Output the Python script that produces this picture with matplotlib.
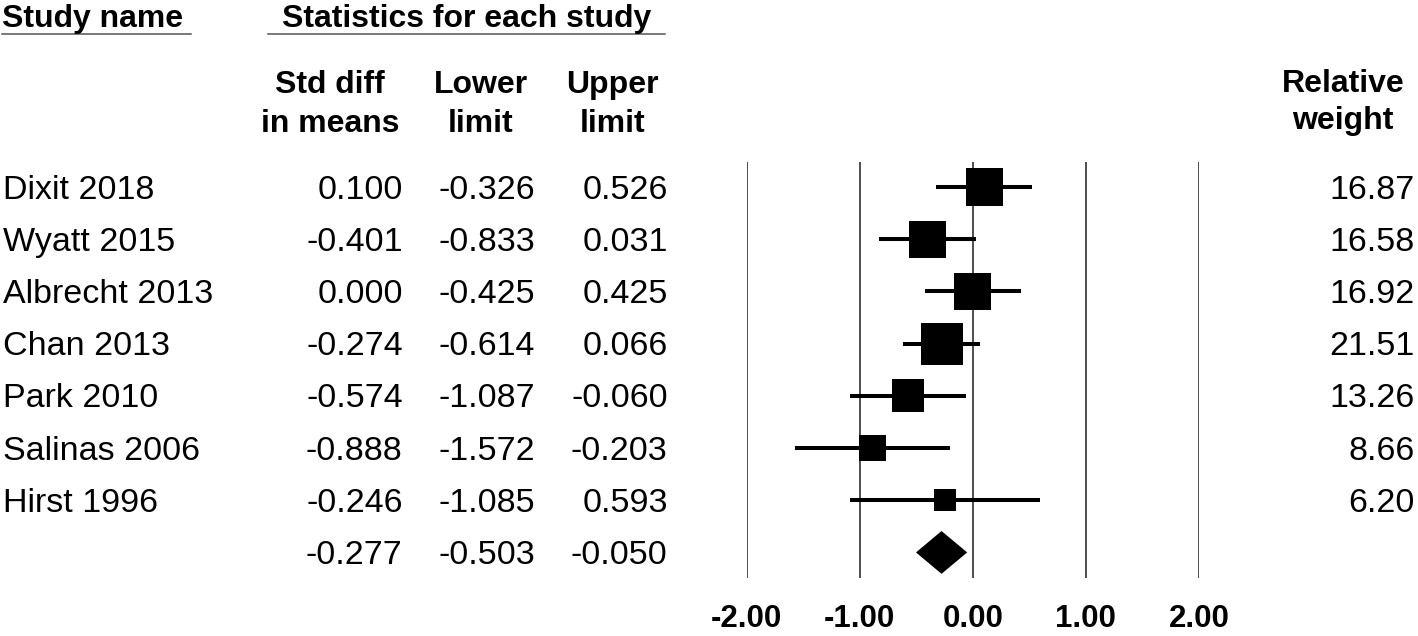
import matplotlib.pyplot as plt
import matplotlib.transforms as mtransforms
import numpy as np

plt.rcParams['font.family'] = ['Liberation Sans', 'DejaVu Sans']

# data
studies = ['Dixit 2018', 'Wyatt 2015', 'Albrecht 2013', 'Chan 2013',
           'Park 2010', 'Salinas 2006', 'Hirst 1996']
smd = [0.100, -0.401, 0.000, -0.274, -0.574, -0.888, -0.246]
lower = [-0.326, -0.833, -0.425, -0.614, -1.087, -1.572, -1.085]
upper = [0.526, 0.031, 0.425, 0.066, -0.060, -0.203, 0.593]
weights = [16.87, 16.58, 16.92, 21.51, 13.26, 8.66, 6.20]
pooled = [-0.277, -0.503, -0.050]
xticks = [-2, -1, 0, 1, 2]

W, H = 1418, 636
fig = plt.figure(figsize=(W / 100, H / 100), dpi=100)

def fx(x):
    return x / W

def fy(y):
    return 1 - y / H

# forest panel
ax = fig.add_axes([fx(746.7), fy(578), (1199 - 746.7) / W, (578 - 161.7) / H])
ax.set_xlim(-2, 2)
ax.set_ylim(7.49, -0.485)
for s in ax.spines.values():
    s.set_visible(False)
ax.set_yticks([])
ax.set_xticks(xticks)
ax.set_xticklabels(['%.2f' % t for t in xticks], fontsize=22.5, fontweight='bold')
ax.tick_params(axis='x', length=0, pad=19)
for t in xticks:
    ax.axvline(t, color='#303030', lw=1.2, zorder=1)

rows = np.arange(len(studies))
ax.hlines(rows, lower, upper, color='black', lw=2.9, zorder=2)
side_pt = 9.03 * np.sqrt(weights) * 0.72
ax.scatter(smd, rows, marker='s', s=side_pt ** 2, color='black', linewidths=0, zorder=3)

prow = len(studies)
ax.fill([pooled[1], pooled[0], pooled[2], pooled[0]],
        [prow, prow - 0.41, prow, prow + 0.41], color='black', lw=0, zorder=3)

# table text, rows tied to the panel's y scale
trans = mtransforms.blended_transform_factory(fig.transFigure, ax.transData)
body = dict(fontsize=24.5, transform=trans, va='baseline')
off = 0.22
for i, name in enumerate(studies):
    ax.text(fx(3), i + off, name, ha='left', **body)
    ax.text(fx(402.7), i + off, '%.3f' % smd[i], ha='right', **body)
    ax.text(fx(535), i + off, '%.3f' % lower[i], ha='right', **body)
    ax.text(fx(667.7), i + off, '%.3f' % upper[i], ha='right', **body)
    ax.text(fx(1414.5), i + off, '%.2f' % weights[i], ha='right', **body)
ax.text(fx(402.7), prow + off, '%.3f' % pooled[0], ha='right', **body)
ax.text(fx(535), prow + off, '%.3f' % pooled[1], ha='right', **body)
ax.text(fx(667.7), prow + off, '%.3f' % pooled[2], ha='right', **body)

# headers
hd = dict(fontsize=23, fontweight='bold', va='baseline')
fig.text(fx(2.5), fy(27.5), 'Study name', ha='left', **hd)
fig.text(fx(466.5), fy(27.5), 'Statistics for each study', ha='center', **hd)
fig.add_artist(plt.Line2D([fx(2), fx(191)], [fy(33.5), fy(33.5)], color='#555555', lw=1.1))
fig.add_artist(plt.Line2D([fx(268), fx(664.5)], [fy(33.5), fy(33.5)], color='#555555', lw=1.1))

fig.text(fx(330), fy(93), 'Std diff', ha='center', **hd)
fig.text(fx(330), fy(131.5), 'in means', ha='center', **hd)
fig.text(fx(481), fy(93), 'Lower', ha='center', **hd)
fig.text(fx(481), fy(131.5), 'limit', ha='center', **hd)
fig.text(fx(612.5), fy(93), 'Upper', ha='center', **hd)
fig.text(fx(612.5), fy(131.5), 'limit', ha='center', **hd)
fig.text(fx(1343), fy(92), 'Relative', ha='center', **hd)
fig.text(fx(1343), fy(129), 'weight', ha='center', **hd)

fig.savefig('out.png', dpi=100, facecolor='white')
